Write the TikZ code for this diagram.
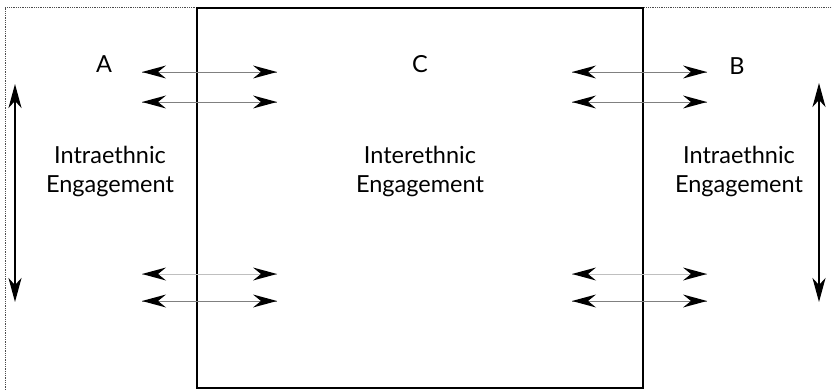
\documentclass[tikz,border=0pt]{standalone}
\usepackage{fontspec}
\setmainfont{Lato}
\usetikzlibrary{arrows.meta}
\begin{document}
\begin{tikzpicture}[x=1pt,y=-1pt,
  label/.style={font=\fontsize{23.5}{29}\selectfont, align=center, inner sep=0pt},
  letter/.style={font=\fontsize{23.5}{28}\selectfont, inner sep=0pt},
  link/.style={line width=0.9pt},
  span/.style={{Stealth[length=24pt,width=13pt,inset=7pt]}-{Stealth[length=24pt,width=13pt,inset=7pt]}, line width=2pt}]
  \useasboundingbox (0,0) rectangle (832,390);

  % outer dotted frame (left and top edges)
  \draw[densely dotted, line width=0.8pt, black!70] (5,390) -- (5,7) -- (832,7);
  % central region
  \draw[line width=2pt] (197,8) rectangle (643,388);

  % group letters
  \node[letter] (A) at (104,64) {A};
  \node[letter] (C) at (420,64) {C};
  \node[letter] (B) at (737,66) {B};

  % engagement labels
  \node[label] (intraA) at (110,171) {Intraethnic\\Engagement};
  \node[label] (inter)  at (420,171) {Interethnic\\Engagement};
  \node[label] (intraB) at (739,171) {Intraethnic\\Engagement};

  % arrow end points
  \foreach \n/\y in {1/72,2/102,3/274,4/301}{
    \coordinate (la\n) at (142,\y); \coordinate (lb\n) at (277,\y);
    \coordinate (ra\n) at (572,\y); \coordinate (rb\n) at (707,\y);
  }
  \coordinate (vAt) at (15,84);  \coordinate (vAb) at (15,302);
  \coordinate (vBt) at (819,83); \coordinate (vBb) at (819,302);

  % cross-boundary arrows: grey shafts with black heads
  \draw[link, draw=black!50] (la1) -- (lb1);
  \draw[link, draw=black!50] (la2) -- (lb2);
  \draw[link, draw=black!25] (la3) -- (lb3);
  \draw[link, draw=black!50] (la4) -- (lb4);
  \draw[link, draw=black!50] (ra1) -- (rb1);
  \draw[link, draw=black!50] (ra2) -- (rb2);
  \draw[link, draw=black!25] (ra3) -- (rb3);
  \draw[link, draw=black!50] (ra4) -- (rb4);
  \foreach \p in {la1,la2,la3,la4,ra1,ra2,ra3,ra4}{
    \fill (\p) ++(24,-6.5) -- (\p) -- ++(24,6.5) -- ++(-8,-6.5) -- cycle;
  }
  \foreach \p in {lb1,lb2,lb3,lb4,rb1,rb2,rb3,rb4}{
    \fill (\p) ++(-24,-6.5) -- (\p) -- ++(-24,6.5) -- ++(8,-6.5) -- cycle;
  }

  % intraethnic spans
  \draw[span] (vAt) -- (vAb);
  \draw[span] (vBt) -- (vBb);
\end{tikzpicture}
\end{document}
